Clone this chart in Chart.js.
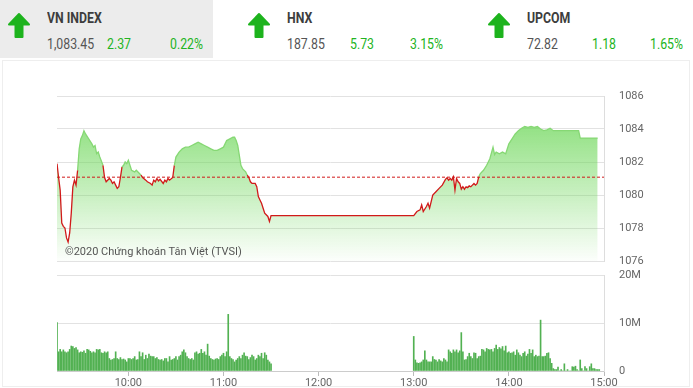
<!DOCTYPE html>
<html lang="vi">
<head>
<meta charset="UTF-8">
<title>VN INDEX</title>
<style>
  body { margin: 0; background: #fff; font-family: Roboto, Arial, sans-serif; }
  .page { position: relative; width: 693px; height: 388px; overflow: hidden; }
  .tab-bg { position: absolute; left: 0; top: 0; width: 213px; height: 58px; background: #ececec; }
  .arrow { position: absolute; top: 12px; }
  .txt { position: absolute; white-space: nowrap; transform: scaleX(.82); transform-origin: left; }
  .name { top: 9px; font-size: 15px; font-weight: bold; color: #3d3d3d; }
  .num { top: 35px; font-size: 15px; color: #555; }
  .up { color: #22b422; }
  .panel { position: absolute; left: 2px; top: 60px; width: 688px; height: 327px; border: 1px solid #eee; box-sizing: border-box; }
  .box { position: absolute; left: 0; width: 693px; }
  .watermark { position: absolute; left: 65px; top: 245px; font-size: 11px; color: #555; }
</style>
</head>
<body>
<div class="page">
  <div class="tab-bg"></div>
  <div class="panel"></div>

  <svg class="arrow" style="left:7px" width="24" height="27"><path d="M12 2 L22 12.5 L15.5 12.5 L15.5 25 L8.5 25 L8.5 12.5 L2 12.5 Z" fill="#1db31d" stroke="#1db31d" stroke-width="2" stroke-linejoin="round"/></svg>
  <div class="txt name" style="left:47px">VN INDEX</div>
  <div class="txt num" style="left:47px">1,083.45</div>
  <div class="txt num up" style="left:107px">2.37</div>
  <div class="txt num up" style="left:170px">0.22%</div>

  <svg class="arrow" style="left:247px" width="24" height="27"><path d="M12 2 L22 12.5 L15.5 12.5 L15.5 25 L8.5 25 L8.5 12.5 L2 12.5 Z" fill="#1db31d" stroke="#1db31d" stroke-width="2" stroke-linejoin="round"/></svg>
  <div class="txt name" style="left:287px">HNX</div>
  <div class="txt num" style="left:287px">187.85</div>
  <div class="txt num up" style="left:350px">5.73</div>
  <div class="txt num up" style="left:410px">3.15%</div>

  <svg class="arrow" style="left:487px" width="24" height="27"><path d="M12 2 L22 12.5 L15.5 12.5 L15.5 25 L8.5 25 L8.5 12.5 L2 12.5 Z" fill="#1db31d" stroke="#1db31d" stroke-width="2" stroke-linejoin="round"/></svg>
  <div class="txt name" style="left:527px">UPCOM</div>
  <div class="txt num" style="left:527px">72.82</div>
  <div class="txt num up" style="left:592px">1.18</div>
  <div class="txt num up" style="left:650px">1.65%</div>

  <div class="box" style="top:86px;height:185px"><canvas id="indexChart"></canvas></div>
  <div class="box" style="top:265px;height:123px"><canvas id="volChart"></canvas></div>
  <div class="watermark">©2020 Chứng khoán Tân Việt (TVSI)</div>
</div>

<script src="https://cdn.jsdelivr.net/npm/chart.js"></script>
<script>
// reference (previous close)
const refValue = 1081.08;

// VN-Index intraday
const indexTimes = [
  '9:15','9:16','9:17','9:18','9:19','9:20','9:21','9:22','9:23','9:24','9:25','9:26','9:27','9:28','9:29','9:30','9:31','9:32','9:33','9:35',
  '9:37','9:38','9:39','9:40','9:41','9:42','9:44','9:45','9:46','9:48','9:49','9:50','9:51','9:52','9:53','9:54','9:55','9:56','9:57','9:58',
  '9:59','10:00','10:01','10:02','10:04','10:05','10:07','10:08','10:09','10:11','10:12','10:14','10:15','10:16','10:17','10:18','10:19','10:20','10:22','10:23',
  '10:24','10:25','10:26','10:28','10:29','10:30','10:32','10:34','10:36','10:38','10:40','10:42','10:44','10:46','10:48','10:50','10:52','10:54','10:56','10:58',
  '11:00','11:02','11:04','11:06','11:07','11:08','11:09','11:10','11:11','11:12','11:14','11:15','11:16','11:17','11:18','11:20','11:21','11:22','11:23','11:24',
  '11:25','11:26','11:28','11:29','11:30',
  '13:00','13:02','13:04','13:05','13:06','13:08','13:09','13:10','13:12','13:14','13:16','13:18','13:20','13:21','13:22','13:23','13:24','13:25','13:26','13:27',
  '13:28','13:29','13:30','13:31','13:32','13:33','13:34','13:35','13:36','13:37','13:38','13:39','13:40','13:41','13:42','13:44','13:46','13:48','13:50','13:51',
  '13:52','13:54','13:56','13:58','14:00','14:02','14:04','14:06','14:08','14:10','14:12','14:14','14:16','14:18','14:20','14:22','14:24','14:26','14:28','14:30',
  '14:44','14:45','14:56'
];
const indexValues = [
  1081.9,1081.06,1080.3,1078.3,1078.1,1078.0,1077.4,1077.15,1077.7,1078.9,1080.5,1080.9,1080.6,1081.5,1082.8,1083.4,1083.6,1083.9,1083.7,1083.4,
  1083.1,1082.9,1083.0,1082.5,1082.6,1082.3,1081.8,1081.06,1080.8,1081.0,1080.9,1080.7,1080.8,1080.6,1080.4,1080.5,1081.06,1081.7,1081.8,1082.0,
  1081.9,1082.1,1081.8,1081.5,1081.4,1081.5,1081.3,1081.2,1081.06,1080.9,1080.8,1080.7,1080.6,1080.9,1080.8,1081.0,1080.85,1080.95,1080.7,1080.9,
  1080.8,1081.0,1080.9,1081.06,1081.8,1082.3,1082.6,1082.8,1082.9,1082.9,1083.0,1083.1,1083.2,1083.1,1083.0,1082.9,1082.8,1082.7,1082.7,1082.8,
  1082.9,1083.3,1083.4,1083.5,1083.5,1083.3,1083.0,1082.4,1081.8,1081.6,1081.4,1081.2,1081.06,1080.8,1080.7,1080.7,1080.5,1079.9,1079.7,1079.5,
  1079.2,1078.9,1078.7,1078.4,1078.75,
  1078.75,1079.0,1079.1,1079.4,1079.0,1079.3,1079.5,1079.2,1080.0,1080.2,1080.4,1080.6,1080.95,1081.04,1080.9,1081.0,1080.9,1081.1,1080.3,1081.0,
  1080.8,1080.7,1080.35,1080.5,1080.35,1080.5,1080.45,1080.55,1080.5,1080.6,1080.7,1080.6,1080.7,1081.1,1081.3,1081.5,1081.8,1082.2,1082.9,1082.45,
  1082.6,1082.5,1082.6,1082.5,1083.1,1083.4,1083.7,1083.9,1084.05,1084.15,1084.1,1084.15,1084.1,1084.15,1084.0,1083.9,1083.95,1084.05,1083.9,1083.9,
  1083.9,1083.45,1083.45
];

// volume per minute, in millions of shares
const volMorningStart = '9:15';
const volMorning = [
  10.1,
  4.0,4.5,4.0,4.4,4.0,3.8,4.0,4.5,5.2,5.1,4.7,4.9,4.4,3.8,4.0,3.9,4.2,3.7,4.5,4.4,4.1,
  3.8,4.0,3.8,4.5,4.4,4.5,3.8,3.7,4.0,3.8,4.0,2.6,2.3,2.4,2.6,4.0,2.6,2.4,2.8,2.4,2.5,
  2.3,1.9,2.6,2.6,2.4,2.6,3.0,2.3,2.4,4.0,3.0,3.8,2.4,3.3,2.6,3.5,3.1,3.0,3.0,2.6,2.8,
  2.4,2.3,2.4,2.1,2.6,
  2.6,1.9,3.0,2.3,2.4,2.6,3.0,2.3,3.0,3.3,4.0,4.4,3.8,3.0,2.6,2.4,2.6,2.3,3.8,4.0,3.5,
  3.7,4.5,3.7,4.0,3.3,5.6,3.1,2.6,2.4,2.3,2.5,2.6,2.4,3.0,3.3,3.7,3.0,4.0,
  11.8,
  3.0,2.6,2.4,1.9,2.3,2.6,3.0,2.6,3.3,3.8,3.1,3.0,2.4,2.8,3.3,3.0,2.3,2.6,3.3,3.0,3.7,
  2.6,3.8,3.3,2.3,1.9,1.5
];
const volAfternoonStart = '13:00';
const volAfternoon = [
  7.2,
  2.3,1.7,1.6,1.7,1.9,2.3,4.2,2.3,1.9,1.9,1.9,3.0,2.4,2.3,1.9,2.4,2.1,1.9,2.6,2.3,1.9,
  4.4,4.0,3.7,4.4,4.0,4.4,3.8,4.2,
  8.0,
  4.0,2.3,2.4,3.0,3.7,3.0,2.6,3.8,3.7,2.6,3.0,3.1,4.5,4.4,4.0,4.7,4.5,4.4,4.5,4.0,4.7,
  5.4,4.5,4.9,4.6,5.1,4.2,5.2,3.8,4.0,3.7,3.8,4.0,3.3,4.4,3.8,3.3,3.0,3.7,4.0,3.1,3.5,
  4.5,3.7,4.4,3.0,3.3,3.0,3.1,
  10.6,
  3.0,3.0,3.1,3.7,3.8,2.6,1.6,
  0.5,0.3,0.3,0.8,0,0.3,0,1.5,0,0.3,0,0,0.9,0.8,1.0,0.3,0,2.3,0.5,0,0.9,0.5,0,0.9,1.5,
  0.5,0.5,0.3,0.3,0.3
];

// hour ticks on the time axis
const hourTicks = ['10:00','11:00','12:00','13:00','14:00','15:00'];
const timeStart = '9:15', timeEnd = '15:00';

function toMin(t) {
  const [h, m] = t.split(':').map(Number);
  return (h - 9) * 60 + m;
}
function minLabel(v) {
  const h = 9 + Math.floor(v / 60), m = v % 60;
  return h + ':' + String(m).padStart(2, '0');
}

const xMin = toMin(timeStart), xMax = toMin(timeEnd);
const indexPoints = indexTimes.map((t, i) => ({ x: toMin(t), y: indexValues[i] }));
const volPoints = volMorning.map((v, i) => ({ x: toMin(volMorningStart) + i, y: v }))
  .concat(volAfternoon.map((v, i) => ({ x: toMin(volAfternoonStart) + i, y: v })));

Chart.defaults.font.family = 'Roboto, Arial, sans-serif';
Chart.defaults.font.size = 11;
Chart.defaults.color = '#666';

const red = '#d11a1a';
const green = '#86d874';

// right-hand value axis: labels pushed out with invisible ticks so the
// tick padding does not eat into the plot height
const rightAxis = (min, max, step, fmt) => ({
  position: 'right',
  min: min,
  max: max,
  ticks: { stepSize: step, padding: 0, callback: fmt },
  grid: { color: '#e2e2e2', drawTicks: true, tickLength: 15, tickColor: 'rgba(0,0,0,0)' },
  border: { display: true, color: '#ddd' },
  afterFit: s => { s.width = 89; }
});

new Chart(document.getElementById('indexChart'), {
  type: 'line',
  data: {
    datasets: [
      // dashed reference line
      {
        data: [{ x: xMin, y: refValue }, { x: xMax, y: refValue }],
        borderColor: red,
        borderWidth: 1,
        borderDash: [3, 2],
        pointRadius: 0,
        fill: false,
        order: 0
      },
      // index line, green above reference / red below
      {
        data: indexPoints,
        borderWidth: 1.3,
        pointRadius: 0,
        fill: false,
        order: 1,
        segment: {
          borderColor: c => (c.p0.parsed.y < refValue || c.p1.parsed.y < refValue) ? red : green
        }
      },
      // gradient area under the index (one piece, no seams)
      {
        data: indexPoints,
        borderWidth: 0,
        pointRadius: 0,
        order: 2,
        fill: 'start',
        backgroundColor: c => {
          const area = c.chart.chartArea;
          if (!area) return 'rgba(110,215,90,0.4)';
          const g = c.chart.ctx.createLinearGradient(0, area.top, 0, area.bottom);
          g.addColorStop(0, 'rgba(110,215,90,0.9)');
          g.addColorStop(1, 'rgba(110,215,90,0.02)');
          return g;
        }
      }
    ]
  },
  options: {
    responsive: true,
    maintainAspectRatio: false,
    animation: false,
    layout: { padding: { left: 57, top: 10, bottom: 10, right: 0 } },
    plugins: { legend: { display: false }, tooltip: { enabled: false } },
    scales: {
      x: { type: 'linear', min: xMin, max: xMax, display: false },
      y: rightAxis(1076, 1086, 2, v => String(v))
    }
  }
});

new Chart(document.getElementById('volChart'), {
  type: 'bar',
  data: {
    datasets: [{
      data: volPoints,
      backgroundColor: '#52b152',
      barThickness: 1
    }]
  },
  options: {
    responsive: true,
    maintainAspectRatio: false,
    animation: false,
    layout: { padding: { left: 57, top: 10, bottom: 0, right: 0 } },
    plugins: { legend: { display: false }, tooltip: { enabled: false } },
    scales: {
      x: {
        type: 'linear',
        min: xMin,
        max: xMax,
        offset: false,
        afterBuildTicks: s => { s.ticks = hourTicks.map(t => ({ value: toMin(t) })); },
        ticks: { callback: v => minLabel(v), padding: 1, maxRotation: 0, autoSkip: false },
        grid: { offset: false, drawOnChartArea: false, tickLength: 5, color: '#bbb' },
        border: { display: true, color: '#ccc' },
        afterFit: s => { s.height = 17; }
      },
      y: rightAxis(0, 20, 10, v => v ? v + 'M' : '0')
    }
  }
});
</script>
</body>
</html>
